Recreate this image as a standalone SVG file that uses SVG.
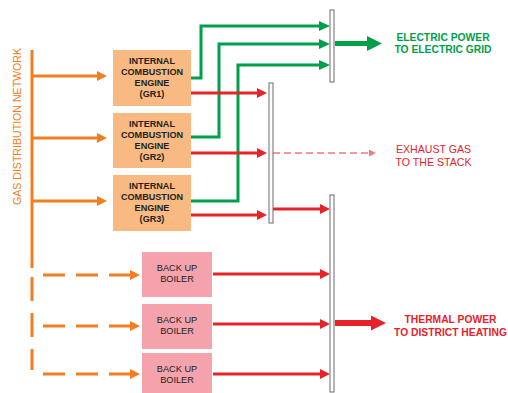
<svg xmlns="http://www.w3.org/2000/svg" width="508" height="393" viewBox="0 0 508 393">
<defs>
<style>
text{font-family:"Liberation Sans",Arial,sans-serif;text-anchor:middle}
.eng rect{fill:#F8BA82}
.eng text{font-size:9.1px;font-weight:bold;fill:#231F20}
.boil rect{fill:#F4A3AD}
.boil text{font-size:9.2px;fill:#231F20}
.or{stroke:#F27E1F;stroke-width:3;fill:none}
.gr{stroke:#00A04B;stroke-width:3;fill:none}
.rd{stroke:#E52329;stroke-width:3;fill:none}
.bar{fill:#fff;stroke:#6b6b6b;stroke-width:1}
</style>
<marker id="ao" markerUnits="userSpaceOnUse" markerWidth="10" markerHeight="10" refX="6" refY="5" orient="auto"><path d="M0,0L10,5L0,10z" fill="#F27E1F"/></marker>
<marker id="ag" markerUnits="userSpaceOnUse" markerWidth="11" markerHeight="10" refX="7" refY="5" orient="auto"><path d="M0,0L11,5L0,10z" fill="#00A04B"/></marker>
<marker id="ar" markerUnits="userSpaceOnUse" markerWidth="10" markerHeight="10" refX="6" refY="5" orient="auto"><path d="M0,0L10,5L0,10z" fill="#E52329"/></marker>
<marker id="ap" markerUnits="userSpaceOnUse" markerWidth="7" markerHeight="7" refX="5" refY="3.5" orient="auto"><path d="M0,0L7,3.5L0,7z" fill="#EE7B7E"/></marker>
</defs>

<g id="connectors">
<line class="or" x1="32" y1="50" x2="32" y2="268"/>
<line class="or" x1="32" y1="277" x2="32" y2="370" stroke-dasharray="24 12"/>
<line class="or" x1="32" y1="76" x2="103" y2="76" marker-end="url(#ao)"/>
<line class="or" x1="32" y1="138" x2="103" y2="138" marker-end="url(#ao)"/>
<line class="or" x1="32" y1="201" x2="103" y2="201" marker-end="url(#ao)"/>
<line class="or" x1="43" y1="275" x2="136" y2="275" stroke-dasharray="22 11" marker-end="url(#ao)"/>
<line class="or" x1="43" y1="326" x2="136" y2="326" stroke-dasharray="22 11" marker-end="url(#ao)"/>
<line class="or" x1="43" y1="374" x2="136" y2="374" stroke-dasharray="22 11" marker-end="url(#ao)"/>
<path class="gr" d="M191,78H201V26H326" marker-end="url(#ag)"/>
<path class="gr" d="M191,137H219V44H326" marker-end="url(#ag)"/>
<path class="gr" d="M191,201H238V65H326" marker-end="url(#ag)"/>
<line class="rd" x1="191" y1="93" x2="263" y2="93" marker-end="url(#ar)"/>
<line class="rd" x1="191" y1="153" x2="263" y2="153" marker-end="url(#ar)"/>
<line class="rd" x1="191" y1="215" x2="263" y2="215" marker-end="url(#ar)"/>
<line x1="273" y1="153" x2="374" y2="153" stroke="#EE7B7E" stroke-width="1.5" stroke-dasharray="7 4" marker-end="url(#ap)"/>
<line class="rd" x1="273" y1="209" x2="326" y2="209" marker-end="url(#ar)"/>
<line class="rd" x1="213" y1="274" x2="326" y2="274" marker-end="url(#ar)"/>
<line class="rd" x1="213" y1="324" x2="326" y2="324" marker-end="url(#ar)"/>
<line class="rd" x1="213" y1="374" x2="326" y2="374" marker-end="url(#ar)"/>
<rect class="bar" x="330" y="10" width="4" height="72"/>
<rect class="bar" x="269" y="83" width="4" height="140"/>
<rect class="bar" x="330" y="195" width="4" height="197"/>
<polygon fill="#00A04B" points="335,41 367,41 367,36 382,43.5 367,51 367,46 335,46"/>
<polygon fill="#E52329" points="335,320 371,320 371,315.5 386,323 371,330.5 371,326 335,326"/>
</g>

<g id="gas-network-label"><text x="20.7" y="126.5" transform="rotate(-90 20.7 126.5)" font-size="10.6" fill="#F27E1F">GAS DISTRIBUTION NETWORK</text></g>

<g id="gr1" class="eng"><rect x="113" y="50" width="78" height="56"/>
<text x="152" y="64">INTERNAL</text><text x="152" y="75">COMBUSTION</text><text x="152" y="86">ENGINE</text><text x="152" y="97">(GR1)</text></g>
<g id="gr2" class="eng"><rect x="113" y="113" width="78" height="55"/>
<text x="152" y="127">INTERNAL</text><text x="152" y="138">COMBUSTION</text><text x="152" y="149">ENGINE</text><text x="152" y="160">(GR2)</text></g>
<g id="gr3" class="eng"><rect x="113" y="175" width="78" height="56"/>
<text x="152" y="189">INTERNAL</text><text x="152" y="200">COMBUSTION</text><text x="152" y="211">ENGINE</text><text x="152" y="222">(GR3)</text></g>

<g id="boiler1" class="boil"><rect x="142" y="252" width="70" height="45"/>
<text x="177" y="271.3">BACK UP</text><text x="177" y="282.3">BOILER</text></g>
<g id="boiler2" class="boil"><rect x="142" y="304" width="70" height="45"/>
<text x="177" y="323.3">BACK UP</text><text x="177" y="334.3">BOILER</text></g>
<g id="boiler3" class="boil"><rect x="142" y="353" width="70" height="40"/>
<text x="177" y="372">BACK UP</text><text x="177" y="383">BOILER</text></g>

<g id="electric-out"><text x="443" y="40.6" font-size="10.3" font-weight="bold" fill="#00A04B">ELECTRIC POWER</text><text x="443" y="52.6" font-size="10.3" font-weight="bold" fill="#00A04B">TO ELECTRIC GRID</text></g>
<g id="exhaust-out"><text x="433.5" y="152.8" font-size="10.6" fill="#E52329">EXHAUST GAS</text><text x="433.5" y="165.8" font-size="10.6" fill="#E52329">TO THE STACK</text></g>
<g id="thermal-out"><text x="450.5" y="322.6" font-size="10.3" font-weight="bold" fill="#E52329">THERMAL POWER</text><text x="450.5" y="335.6" font-size="10.3" font-weight="bold" fill="#E52329">TO DISTRICT HEATING</text></g>
</svg>
